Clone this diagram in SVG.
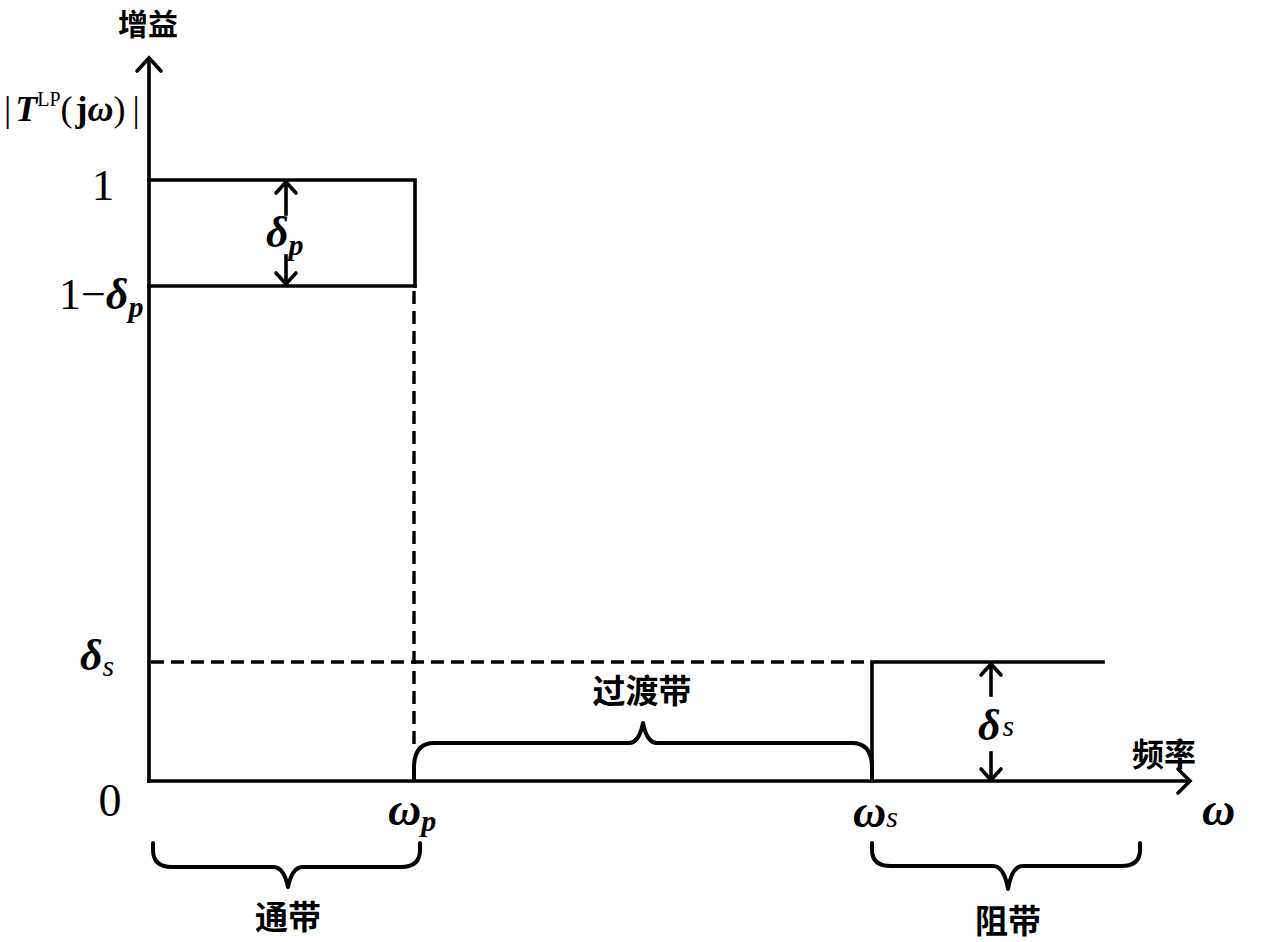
<svg xmlns="http://www.w3.org/2000/svg" width="1262" height="942" viewBox="0 0 1262 942">
<defs>
<style>
.ln{stroke:#000;stroke-width:3.6;fill:none;stroke-linecap:square}
.ds{stroke:#000;stroke-width:3.4;fill:none;stroke-dasharray:13 7}
.ah{stroke:#000;stroke-width:3.6;fill:none;stroke-linecap:round;stroke-linejoin:miter}
.br{stroke:#000;stroke-width:4;fill:none;stroke-linecap:round;stroke-linejoin:round}
.cn{font-family:"Noto Sans CJK SC","Noto Sans CJK JP",sans-serif;font-weight:bold;fill:#000}
.mt{font-family:"Liberation Serif","DejaVu Serif",serif;fill:#000}
.gi{font-style:italic;font-weight:bold}
.it{font-style:italic}
</style>
</defs>
<rect width="1262" height="942" fill="#fff"/>
<g id="axes">
<path class="ln" d="M149,781 V60"/>
<path class="ah" d="M137,71 L149,58 L161,71"/>
<path class="ln" d="M149,781 H1188"/>
<path class="ah" d="M1178,769 L1190,781 L1178,793"/>
</g>
<g id="connectors">
<path class="ln" d="M149,180 H415 V286"/>
<path class="ln" d="M149,286 H415"/>
<path class="ds" d="M414,291 V745"/>
<path class="ds" d="M151,662 H872"/>
<path class="ln" d="M872,781 V662 H1103"/>
<path class="ln" d="M286,183 V214"/>
<path class="ah" d="M276,193 L286,182 L296,193"/>
<path class="ln" d="M286,256 V283"/>
<path class="ah" d="M276,273 L286,284 L296,273"/>
<path class="ln" d="M991,665 V695"/>
<path class="ah" d="M981,675 L991,664 L1001,675"/>
<path class="ln" d="M991,753 V778"/>
<path class="ah" d="M981,769 L991,780 L1001,769"/>
</g>
<g id="braces">
<path class="br" d="M414,780 V768 Q414,743 434,743 H629 Q639,743 643,723 Q647,743 657,743 H852 Q872,743 872,768 V780"/>
<path class="br" d="M153,843 V850 Q153,867 172,867 H273 Q284,867 288,887 Q292,867 303,867 H401 Q420,867 420,850 V843"/>
<path class="br" d="M872,843 V850 Q872,866 891,866 H993 Q1004,866 1008,889 Q1012,866 1023,866 H1121 Q1140,866 1140,850 V843"/>
</g>
<g id="labels">
<text class="cn" x="148" y="35" font-size="30" text-anchor="middle">增益</text>
<text class="mt" x="4" y="121" font-size="36"><tspan>|</tspan><tspan class="gi" dx="4">T</tspan><tspan font-size="20" dy="-15">LP</tspan><tspan dy="15">(</tspan><tspan font-weight="bold" dx="3">j</tspan><tspan class="gi">ω</tspan><tspan>)</tspan><tspan dx="7">|</tspan></text>
<text class="mt" x="103" y="200" font-size="45" text-anchor="middle">1</text>
<text class="mt" x="59" y="309" font-size="44"><tspan>1−</tspan><tspan class="gi">δ</tspan><tspan class="gi" font-size="30" dy="8">p</tspan></text>
<text class="mt" x="266" y="247" font-size="44"><tspan class="gi">δ</tspan><tspan class="gi" font-size="30" dy="8">p</tspan></text>
<text class="mt" x="80" y="670" font-size="44"><tspan class="gi">δ</tspan><tspan class="it" font-size="30" dy="6">s</tspan></text>
<text class="mt" x="978" y="740" font-size="44"><tspan class="gi">δ</tspan><tspan class="it" font-size="30" dy="-4" dx="2">s</tspan></text>
<text class="mt" x="110" y="816" font-size="46" text-anchor="middle">0</text>
<text class="mt" x="388" y="825" font-size="46"><tspan class="gi">ω</tspan><tspan class="gi" font-size="30" dy="6">p</tspan></text>
<text class="mt" x="853" y="827" font-size="46"><tspan class="gi">ω</tspan><tspan class="it" font-size="30">s</tspan></text>
<text class="mt" x="1202" y="825" font-size="46"><tspan class="gi">ω</tspan></text>
<text class="cn" x="1164" y="766" font-size="32" text-anchor="middle">频率</text>
<text class="cn" x="642" y="703" font-size="33" text-anchor="middle">过渡带</text>
<text class="cn" x="288" y="929" font-size="33" text-anchor="middle">通带</text>
<text class="cn" x="1008" y="933" font-size="33" text-anchor="middle">阻带</text>
</g>
</svg>
